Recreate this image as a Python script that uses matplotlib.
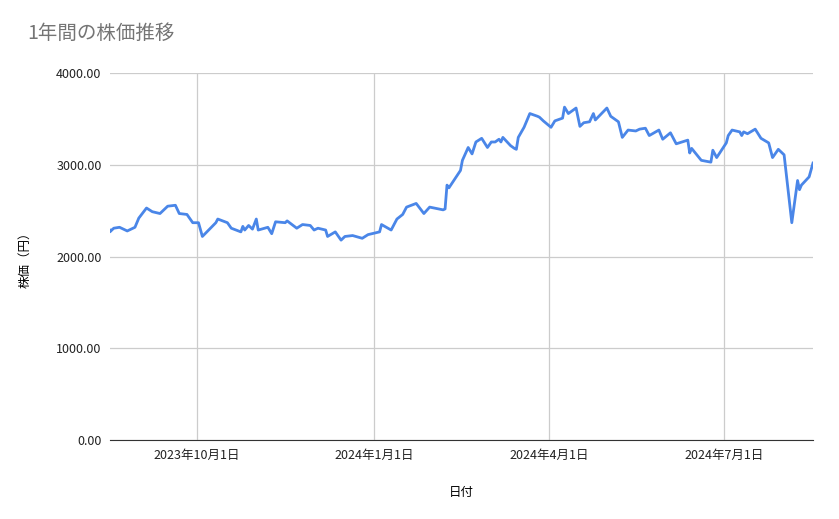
import matplotlib
matplotlib.use("Agg")
import matplotlib.pyplot as plt
import matplotlib.dates as mdates
import numpy as np
import datetime as dt

plt.rcParams['font.family'] = ['Noto Sans CJK JP', 'DejaVu Sans']

start = dt.date(2023, 8, 17)
# days since start, closing price
days = [0, 0.5, 2, 5, 9, 13, 15, 19, 22, 26, 30, 34, 36, 40, 43, 46, 48, 55, 56, 61, 63,
        68, 69, 70, 72, 74, 76, 77, 82, 84, 86, 91, 92, 97, 100, 104, 106, 108, 112, 113,
        117, 120, 122, 126, 131, 134, 140, 141, 146, 149, 152, 154, 159, 163, 166, 173, 174,
        175, 176, 182, 183, 186, 188, 190, 193, 196, 198, 200, 202, 203, 204, 208, 210, 211,
        212, 215, 218, 222, 223, 225, 229, 231, 235, 236, 238, 242, 244, 246, 249, 251, 252,
        258, 260, 264, 266, 269, 273, 275, 278, 280, 285, 287, 291, 294, 300, 301, 302, 307,
        312, 313, 315, 320, 321, 323, 327, 328, 329, 331, 335, 338, 342, 344, 347, 350, 354,
        357, 358, 359, 363, 365]
prices = [2290, 2270, 2310, 2320, 2280, 2320, 2420, 2530, 2490, 2470, 2550, 2560, 2470, 2460,
          2370, 2370, 2220, 2370, 2410, 2370, 2310, 2270, 2330, 2290, 2340, 2300, 2410, 2290,
          2320, 2250, 2380, 2370, 2390, 2310, 2350, 2340, 2290, 2310, 2290, 2220, 2270, 2180,
          2220, 2230, 2200, 2240, 2270, 2350, 2290, 2410, 2460, 2540, 2580, 2470, 2540, 2510,
          2520, 2780, 2750, 2940, 3050, 3190, 3120, 3250, 3290, 3190, 3250, 3250, 3280, 3250,
          3300, 3210, 3180, 3170, 3300, 3410, 3560, 3530, 3520, 3480, 3410, 3480, 3510, 3630,
          3560, 3620, 3420, 3460, 3470, 3560, 3490, 3620, 3530, 3470, 3300, 3380, 3370, 3390,
          3400, 3320, 3380, 3280, 3350, 3230, 3270, 3130, 3180, 3050, 3030, 3160, 3080, 3240,
          3320, 3380, 3360, 3320, 3360, 3340, 3390, 3290, 3240, 3080, 3170, 3110, 2370, 2830,
          2730, 2780, 2870, 3020]
yticks = [0, 1000, 2000, 3000, 4000]
xtick_dates = [dt.date(2023, 10, 1), dt.date(2024, 1, 1), dt.date(2024, 4, 1), dt.date(2024, 7, 1)]

dates = [start + dt.timedelta(days=d) for d in days]

fig = plt.figure(figsize=(8.39, 5.19), dpi=100)
ax = fig.add_axes([0.131, 0.152, 0.838, 0.707])
ax.plot(dates, prices, color='#4a86e8', lw=2)

ax.set_xlim(start, start + dt.timedelta(days=365.5))
ax.set_ylim(0, 4000)
ax.set_yticks(yticks)
ax.set_yticklabels(["{:.2f}".format(v) for v in yticks])
ax.set_xticks(xtick_dates)
ax.set_xticklabels(["{}年{}月{}日".format(d.year, d.month, d.day) for d in xtick_dates])
ax.grid(True, color='#cccccc', lw=0.9)
ax.set_axisbelow(True)
for s in ['top', 'right', 'left']:
    ax.spines[s].set_visible(False)
ax.spines['bottom'].set_color('#333333')
ax.tick_params(length=0, labelsize=9, colors='#222222', pad=6)

ax.set_xlabel('日付', fontsize=9, labelpad=18)
ax.set_ylabel('株価（円）', fontsize=9, labelpad=18)
fig.text(0.033, 0.925, '1年間の株価推移', fontsize=14, color='#757575')

fig.savefig('out.png', dpi=100)
